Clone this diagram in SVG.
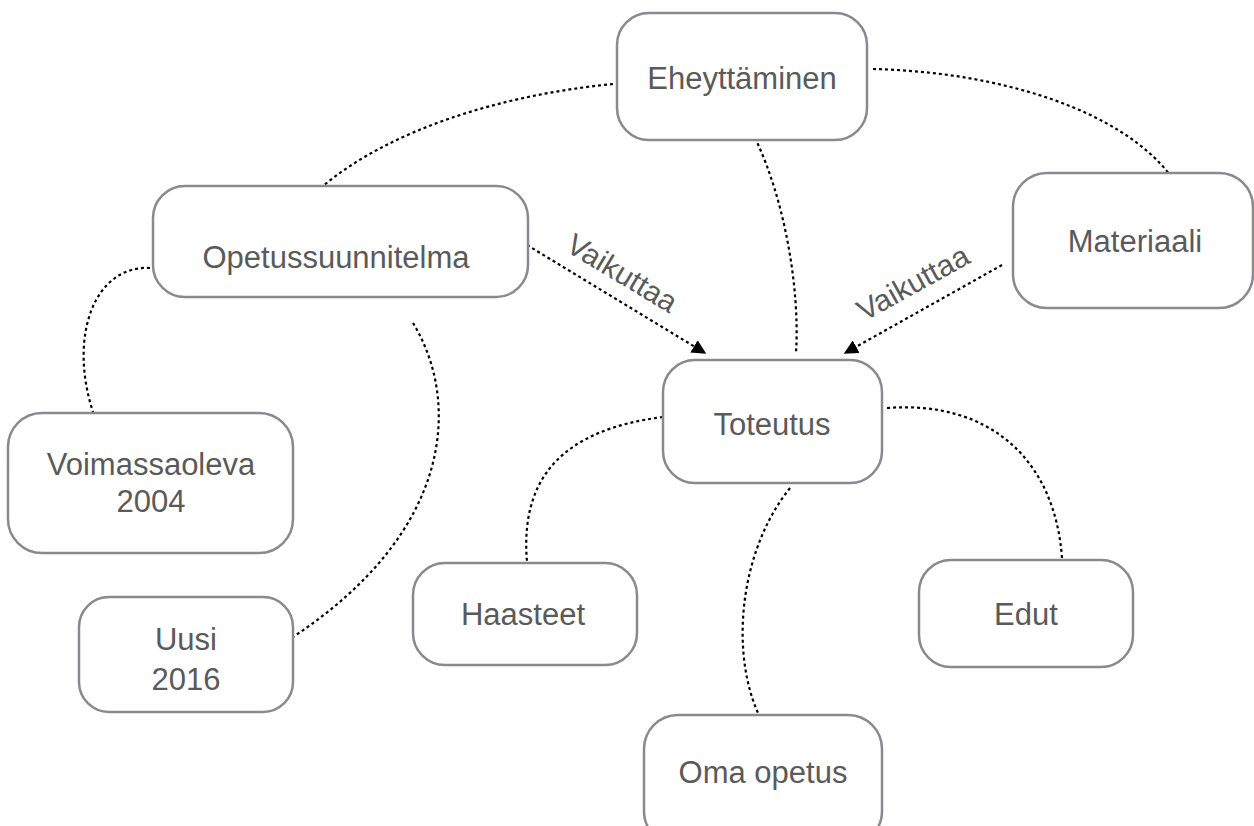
<svg xmlns="http://www.w3.org/2000/svg" width="1254" height="826" viewBox="0 0 1254 826">
<style>
.box{fill:#fff;stroke:#8a8a8e;stroke-width:2.5}
.t{font-family:"Liberation Sans",Arial,sans-serif;font-size:31px;fill:#5a5a5a;text-anchor:middle}
.c{fill:none;stroke:#000;stroke-width:2.2;stroke-dasharray:3 3}
.lbl{font-family:"Liberation Sans",Arial,sans-serif;font-size:30px;fill:#5a5a5a;text-anchor:middle}
</style>
<defs>
<marker id="ah" viewBox="0 0 10 10" refX="9" refY="5" markerWidth="6.5" markerHeight="6.5" orient="auto" markerUnits="strokeWidth">
<path d="M0,0 L10,5 L0,10 z" fill="#000"/>
</marker>
</defs>
<rect width="1254" height="826" fill="#fff"/>
<g id="connectors">
<path class="c" d="M613,84 C500,95 390,130 323,186"/>
<path class="c" d="M873,69 C1000,72 1120,110 1170,175"/>
<path class="c" d="M755,138 C785,200 800,290 796,353"/>
<path class="c" d="M150,268 C95,265 68,335 93,412"/>
<path class="c" d="M413,323 C460,400 455,530 293,637"/>
<path class="c" d="M663,417 C560,430 520,480 527,562"/>
<path class="c" d="M887,408 C990,400 1055,460 1062,558"/>
<path class="c" d="M790,488 C740,550 730,650 758,713"/>
<path class="c" d="M527,245 L705,353" marker-end="url(#ah)"/>
<path class="c" d="M1002,265 L845,353" marker-end="url(#ah)"/>
<text class="lbl" transform="translate(617,282) rotate(31)">Vaikuttaa</text>
<text class="lbl" transform="translate(918,292) rotate(-29)">Vaikuttaa</text>
</g>
<g id="eheyttaminen"><rect class="box" x="617" y="13" width="250" height="127" rx="32"/><text class="t" x="742" y="89">Eheyttäminen</text></g>
<g id="opetussuunnitelma"><rect class="box" x="153" y="186" width="375" height="111" rx="32"/><text class="t" x="336" y="268">Opetussuunnitelma</text></g>
<g id="materiaali"><rect class="box" x="1013" y="173" width="240" height="135" rx="34"/><text class="t" x="1135" y="252">Materiaali</text></g>
<g id="toteutus"><rect class="box" x="663" y="360" width="219" height="123" rx="32"/><text class="t" x="772" y="435">Toteutus</text></g>
<g id="voimassaoleva"><rect class="box" x="8" y="413" width="285" height="140" rx="34"/><text class="t" x="151" y="475">Voimassaoleva</text><text class="t" x="151" y="512">2004</text></g>
<g id="uusi"><rect class="box" x="79" y="597" width="214" height="115" rx="30"/><text class="t" x="186" y="650">Uusi</text><text class="t" x="186" y="690">2016</text></g>
<g id="haasteet"><rect class="box" x="413" y="563" width="224" height="102" rx="32"/><text class="t" x="523" y="625">Haasteet</text></g>
<g id="edut"><rect class="box" x="919" y="560" width="214" height="107" rx="32"/><text class="t" x="1026" y="625">Edut</text></g>
<g id="oma-opetus"><rect class="box" x="644" y="715" width="238" height="130" rx="34"/><text class="t" x="763" y="783">Oma opetus</text></g>
</svg>
